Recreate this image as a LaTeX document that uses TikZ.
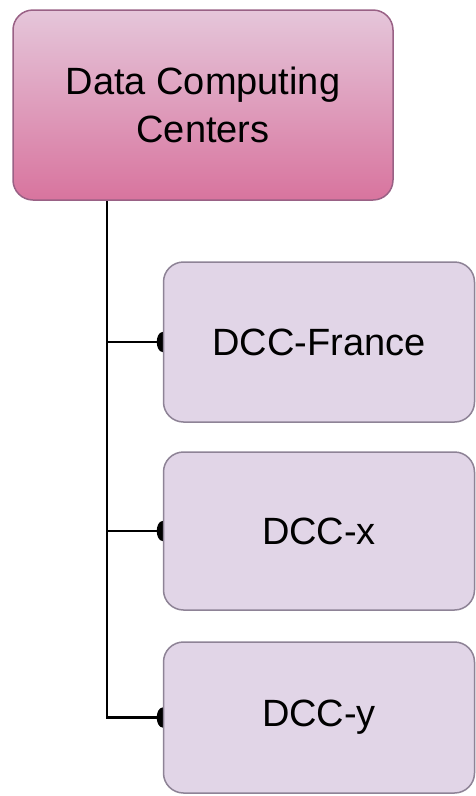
\documentclass[tikz,border=0pt]{standalone}
\usepackage{fontspec}
\setmainfont{Liberation Sans}
\usetikzlibrary{arrows.meta, backgrounds}

\definecolor{PinkTop}{HTML}{E5C6DA}
\definecolor{PinkBottom}{HTML}{D8749E}
\definecolor{PinkLine}{HTML}{996185}
\definecolor{LilacFill}{HTML}{E1D5E7}
\definecolor{LilacLine}{HTML}{8E8396}

\tikzset{
    topbox/.style = {draw = PinkLine, line width = 1.5pt, rounded corners = 20pt,
        top color = PinkTop, bottom color = PinkBottom, align = center,
        minimum width = 380pt, minimum height = 190pt, inner sep = 0pt,
        font = \fontsize{38}{48}\selectfont},
    centerbox/.style = {draw = LilacLine, line width = 1.5pt, rounded corners = 20pt,
        fill = LilacFill, minimum width = 311pt, inner sep = 0pt,
        font = \fontsize{38}{48}\selectfont},
    branch/.style = {line width = 2.6pt, shorten > = -6pt,
        -{Circle[length = 12pt, width = 20pt]}}
}

\begin{document}
\begin{tikzpicture}[x = 1pt, y = -1pt]
    \useasboundingbox (0, 0) rectangle (476, 796);
    \node [topbox] (dcc) at (203, 105) {Data Computing\\Centers};
    \coordinate (spine) at (107, 0);
    \foreach \name/\label/\ymid/\h in {france/DCC-France/342/160, x/DCC-x/531/158, y/DCC-y/717.5/151} {
        \node [centerbox, minimum height = \h pt] (\name) at (319, \ymid) {\label};
    }
    \begin{scope}[on background layer]
        \foreach \name in {france, x, y} {
            \draw [branch] (dcc.south -| spine) |- (\name.west);
        }
    \end{scope}
\end{tikzpicture}
\end{document}
